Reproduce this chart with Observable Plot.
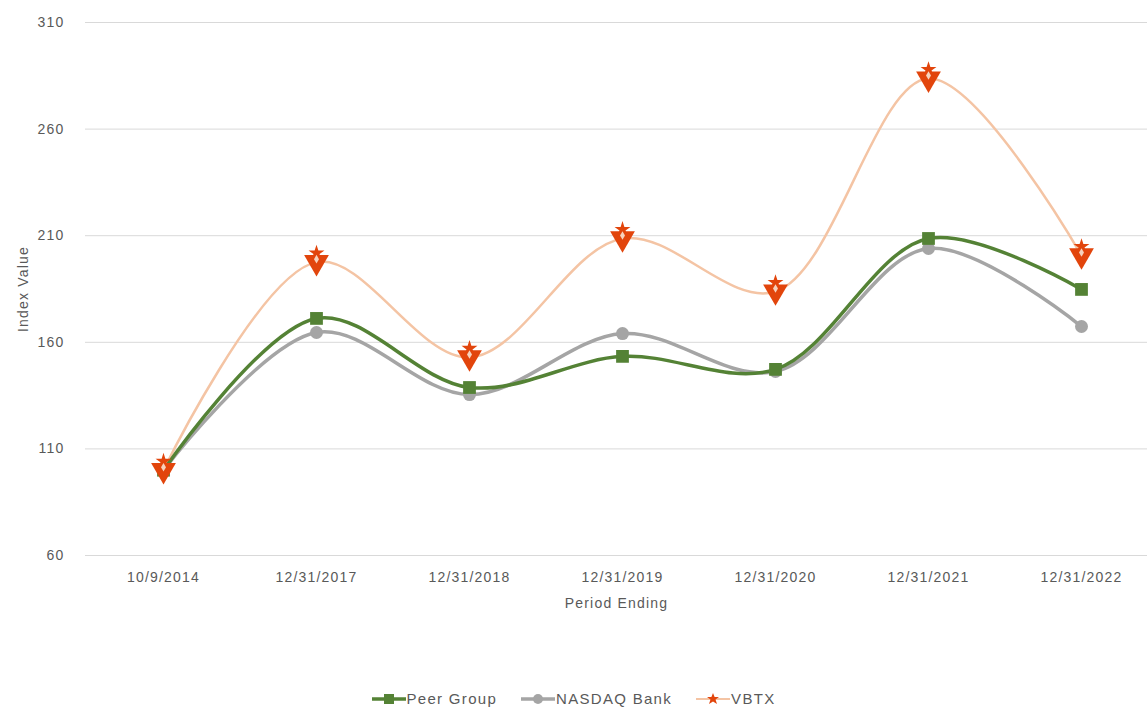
<!DOCTYPE html>
<html>
<head>
<meta charset="utf-8">
<script src="https://cdn.jsdelivr.net/npm/d3@7"></script>
<script src="https://cdn.jsdelivr.net/npm/@observablehq/plot@0.6"></script>
<style>
  body { margin: 0; background: #fff; font-family: "Liberation Sans", Arial, sans-serif; }
  #wrap { position: relative; width: 1147px; height: 707px; }
  #legend { position: absolute; top: 690px; left: 0; width: 1147px; display: flex; justify-content: center; gap: 24px; font-size: 15px; letter-spacing: 1.3px; color: #595959; }
  #legend .item { display: flex; align-items: center; gap: 1px; }
</style>
</head>
<body>
<div id="wrap">
  <div id="chart"></div>
  <div id="legend"></div>
</div>
<script>
const periods = ["10/9/2014", "12/31/2017", "12/31/2018", "12/31/2019", "12/31/2020", "12/31/2021", "12/31/2022"];
const peerGroup = [100, 171.2, 138.8, 153.4, 147.3, 208.7, 184.8];
const nasdaqBank = [100, 164.6, 135.5, 164.1, 146.3, 204.0, 167.4];
const vbtx = [100, 197.6, 152.9, 208.7, 183.8, 283.7, 200.7];
const yTicks = [60, 110, 160, 210, 260, 310];
const seriesNames = ["Peer Group", "NASDAQ Bank", "VBTX"];

const colors = { "Peer Group": "#548235", "NASDAQ Bank": "#a5a5a5", "VBTX": "#f4c4a4" };
const markerRed = "#e2450c";

const toRows = (name, vals) => vals.map((v, i) => ({ series: name, period: periods[i], value: v }));
const peerRows = toRows("Peer Group", peerGroup);
const nasdaqRows = toRows("NASDAQ Bank", nasdaqBank);
const vbtxRows = toRows("VBTX", vbtx);

const chart = Plot.plot({
  width: 1147,
  height: 620,
  marginLeft: 85,
  marginRight: 0,
  marginTop: 22,
  marginBottom: 65,
  style: { fontFamily: "'Liberation Sans', Arial, sans-serif", fontSize: "14px", letterSpacing: "1.2px", color: "#595959", background: "#fff" },
  x: { type: "point", domain: periods, range: [162, 1081], padding: 0 },
  y: { domain: [60, 310], range: [555, 22] },
  marks: [
    Plot.ruleY(yTicks, { stroke: "#d9d9d9", strokeWidth: 1 }),
    Plot.axisY(yTicks, { tickSize: 0, tickPadding: 21, fontSize: 14, fill: "#595959",
      label: "Index Value", labelAnchor: "center", labelArrow: "none", labelOffset: 67 }),
    Plot.axisX({ tickSize: 0, tickPadding: 17, fontSize: 14, fill: "#595959",
      label: "Period Ending", labelAnchor: "center", labelArrow: "none", labelOffset: 52 }),
    Plot.line(vbtxRows, { x: "period", y: "value", stroke: colors["VBTX"], strokeWidth: 2.5, curve: "catmull-rom" }),
    Plot.line(nasdaqRows, { x: "period", y: "value", stroke: colors["NASDAQ Bank"], strokeWidth: 3.5, curve: "catmull-rom" }),
    Plot.line(peerRows, { x: "period", y: "value", stroke: colors["Peer Group"], strokeWidth: 3.5, curve: "catmull-rom" }),
    Plot.dot(nasdaqRows, { x: "period", y: "value", symbol: "circle", r: 6.5, fill: colors["NASDAQ Bank"], stroke: "none" }),
    Plot.dot(peerRows, { x: "period", y: "value", symbol: "square", r: 7.2, fill: colors["Peer Group"], stroke: "none" }),
    Plot.dot(vbtxRows, { x: "period", y: "value", symbol: "triangle", rotate: 180, r: 9.2, fill: markerRed, stroke: "none" }),
    Plot.dot(vbtxRows, { x: "period", y: "value", symbol: "star", r: 5, dy: -9, fill: markerRed, stroke: "none" }),
    Plot.dot(vbtxRows, { x: "period", y: "value", symbol: "diamond", r: 2.6, dy: -3, fill: "#f6d2bd", stroke: "none" })
  ]
});
document.getElementById("chart").appendChild(chart);

// Legend
const legend = document.getElementById("legend");
const legendMarkers = {
  "Peer Group": `<line x1="0" y1="8" x2="34" y2="8" stroke="${colors["Peer Group"]}" stroke-width="3.5"/><rect x="12" y="3" width="10" height="10" fill="${colors["Peer Group"]}"/>`,
  "NASDAQ Bank": `<line x1="0" y1="8" x2="34" y2="8" stroke="${colors["NASDAQ Bank"]}" stroke-width="3.5"/><circle cx="17" cy="8" r="5" fill="${colors["NASDAQ Bank"]}"/>`,
  "VBTX": `<line x1="0" y1="8" x2="34" y2="8" stroke="${colors["VBTX"]}" stroke-width="2"/><path d="M17,2 L18.6,6 L23,6 L19.5,8.6 L21,13 L17,10.4 L13,13 L14.5,8.6 L11,6 L15.4,6 Z" fill="${markerRed}"/>`
};
seriesNames.forEach(name => {
  const item = document.createElement("div");
  item.className = "item";
  item.innerHTML = `<svg width="34" height="16">${legendMarkers[name]}</svg><span>${name}</span>`;
  legend.appendChild(item);
});
</script>
</body>
</html>
